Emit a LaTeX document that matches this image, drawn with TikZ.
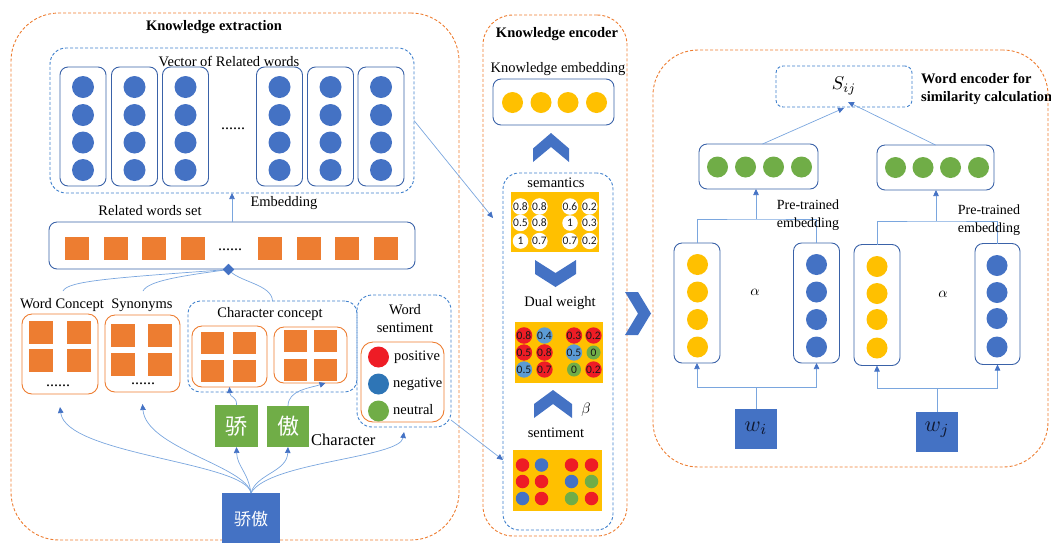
\documentclass[tikz,border=0pt]{standalone}
\usepackage{fontspec}
\setmainfont{Liberation Serif}
\newfontfamily\cjk{Noto Sans CJK SC}
\newfontfamily\numfont{Carlito}
\usetikzlibrary{arrows.meta,calc}

\definecolor{orgline}{HTML}{ED7D31}
\definecolor{dashblue}{HTML}{3F80CC}
\definecolor{boxblue}{HTML}{3A62A8}
\definecolor{dotblue}{HTML}{4472C4}
\definecolor{linkblue}{HTML}{7AA6DE}
\definecolor{gold}{HTML}{FFC000}
\definecolor{leafgreen}{HTML}{70AD47}
\definecolor{hotred}{HTML}{EE1C25}
\definecolor{seablue}{HTML}{2E75B6}
\definecolor{skyblue}{HTML}{5B9BD5}
\definecolor{inkblue}{HTML}{101830}

\tikzset{
  lbl/.style={font=\fontsize{14.5}{17}\selectfont, inner sep=0pt},
  ttl/.style={font=\fontsize{14.5}{18}\selectfont\bfseries, inner sep=0pt},
  ell/.style={font=\fontsize{16}{16}\selectfont, inner sep=0pt},
  mathlbl/.style={font=\fontsize{10}{10}\selectfont, inner sep=0pt, scale=#1},
  wh/.style 2 args={rectangle, minimum width=#1pt, minimum height=#2pt, inner sep=0pt, outer sep=0pt},
  orangedash/.style={draw=orgline, dash pattern=on 3pt off 2pt, line width=0.9pt},
  bluedash/.style={draw=dashblue, dash pattern=on 3pt off 2pt, line width=0.9pt},
  bluebox/.style={draw=boxblue, line width=0.9pt},
  orangebox/.style={draw=orgline, line width=0.9pt},
  tile/.style 2 args={wh={#1}{#2}, fill=orgline},
  bead/.style 2 args={circle, fill=#1, minimum size=#2pt, inner sep=0pt, outer sep=0pt},
  numbead/.style 2 args={circle, fill=#1, minimum size=#2pt, inner sep=0pt, outer sep=0pt,
    font=\numfont\fontsize{11.5}{11.5}\selectfont, text=black!90},
  link/.style={draw=linkblue, line width=0.7pt, -{Triangle[length=6pt,width=5.5pt,color=dotblue]}},
  wire/.style={draw=linkblue, line width=0.7pt},
  chev/.style={fill=dotblue},
  joint/.style={wh={8}{8}, fill=dotblue, rotate=45},
}

\begin{document}
\begin{tikzpicture}[x=1pt,y=-1pt]
\useasboundingbox (0,0) rectangle (1051,542);

% ================= Knowledge extraction =================
\node[wh={448}{527}, orangedash, rounded corners=48pt] (kx) at (235,276.5) {};
\node[ttl] (kxt) at (214,27) {Knowledge extraction};

% vectors of related words
\node[wh={364}{145}, bluedash, rounded corners=16pt] (vec) at (232,120.5) {};
\node[lbl] (vect) at (229,61) {Vector of Related words};
\foreach \x [count=\i] in {83,134.5,185.5,279.5,330.5,381}{
  \node[wh={46}{119}, bluebox, rounded corners=8pt] (col\i) at (\x,126.5) {};
  \foreach \y [count=\j] in {87,115,142.5,170}
    \node[bead={dotblue}{22}] (col\i-\j) at (\x,\y) {};
}
\node[ell] (vecdots) at (233,129) {......};

% related words set
\node[wh={366}{47}, bluebox, rounded corners=8pt] (rw) at (232,245.5) {};
\node[lbl] (rwt) at (150,211) {Related words set};
\foreach \x [count=\i] in {77,116,154,193,270,309,347,386}
  \node[tile={24}{23}] (rw\i) at (\x,248) {};
\node[ell] (rwdots) at (230,250) {......};
\node[lbl] (embt) at (284,203) {Embedding};
\draw[link] (rw.north) -- (vec.south);

% word concept and synonyms
\node[lbl] (wct) at (62,305) {Word Concept};
\node[lbl] (synt) at (142,305) {Synonyms};
\node[wh={76}{80}, orangebox, rounded corners=10pt] (wc) at (60,354) {};
\foreach \x/\y [count=\i] in {41/332,79/332,41/360,79/360}
  \node[tile={24}{23}] (wc\i) at (\x,\y) {};
\node[ell] (wcdots) at (58,386) {......};
\node[wh={75}{77}, orangebox, rounded corners=10pt] (syn) at (142.5,353.5) {};
\foreach \x/\y [count=\i] in {123/335,160/335,123/364,160/364}
  \node[tile={24}{23}] (syn\i) at (\x,\y) {};
\node[ell] (syndots) at (143,384) {......};

% character concept
\node[wh={169}{91}, bluedash, rounded corners=12pt] (cc) at (272.5,346.5) {};
\node[lbl] (cct) at (270,314) {Character concept};
\node[wh={75}{61}, orangebox, rounded corners=10pt] (cca) at (229.5,356.5) {};
\foreach \x/\y [count=\i] in {212.5/342.5,244/342.5,212.5/370.5,244/370.5}
  \node[tile={23}{22}] (cca\i) at (\x,\y) {};
\node[wh={73}{56}, orangebox, rounded corners=10pt] (ccb) at (310.5,355) {};
\foreach \x/\y [count=\i] in {295/340.5,325.5/340.5,295/369.5,325.5/369.5}
  \node[tile={23}{22}] (ccb\i) at (\x,\y) {};

% sources merging into the related words set
\coordinate (wcup) at (63,291);
\coordinate (synup) at (143,291);
\node[joint] (hub) at (228.5,269.5) {};
\draw[wire] (wcup) .. controls (68,281) and (110,278) .. (hub.center);
\draw[wire] (synup) .. controls (148,281) and (180,276) .. (hub.center);
\draw[wire] (cc.north) .. controls (272,284) and (238,282) .. (hub.center);
\node[joint] at (hub) {};

% word sentiment
\node[wh={94}{132}, bluedash, rounded corners=15pt] (ws) at (404,361) {};
\node[lbl, align=center, font=\fontsize{14.5}{18}\selectfont] (wst) at (405,319) {Word\\sentiment};
\node[wh={83}{80}, orangebox, rounded corners=12pt] (wsk) at (402.5,382) {};
\node[bead={hotred}{21}] (pos) at (378.5,357) {};
\node[bead={seablue}{21}] (neg) at (378.5,384) {};
\node[bead={leafgreen}{21}] (neu) at (378.5,411) {};
\node[lbl, anchor=west] (post) at (394,357) {positive};
\node[lbl, anchor=west] (negt) at (393,384) {negative};
\node[lbl, anchor=west] (neut) at (393,410) {neutral};

% characters and the word
\node[wh={43}{42}, fill=leafgreen, text=white, font=\cjk\fontsize{22}{22}\selectfont] (jiao) at (236.5,426) {骄};
\node[wh={42}{41}, fill=leafgreen, text=white, font=\cjk\fontsize{22}{22}\selectfont] (ao) at (288,426.5) {傲};
\node[lbl, anchor=west, font=\fontsize{16.5}{18}\selectfont] (chart) at (311,440) {Character};
\node[wh={58}{52}, fill=dotblue, text=white, font=\cjk\fontsize{17}{17}\selectfont] (root) at (251,519) {骄傲};

\draw[link] (root.north) .. controls (246,462) and (66,455) .. ([yshift=-13pt]wc.south);
\draw[link] (root.north) .. controls (246,466) and (146,448) .. ([yshift=-12pt]syn.south);
\draw[link] (root.north) .. controls (248,472) and (237,466) .. (jiao.south);
\draw[link] (root.north) .. controls (256,474) and (287,472) .. (ao.south);
\draw[link] (root.north) .. controls (268,462) and (400,458) .. ([yshift=-5pt]ws.south);
\draw[link] (jiao.north) .. controls (237,396) and (230,398) .. (cca.south);
\draw[link] (ao.north) .. controls (288,390) and (310,388) .. ([xshift=15pt]ccb.south);

% ================= Knowledge encoder =================
\node[wh={144}{521}, orangedash, rounded corners=30pt] (ken) at (555,275.5) {};
\node[ttl] (kent) at (557,34) {Knowledge encoder};
\node[lbl] (kembt) at (558,69) {Knowledge embedding};
\node[wh={121}{46}, bluebox, rounded corners=8pt] (kemb) at (553.5,102) {};
\foreach \x [count=\i] in {512.5,541,568,596.5}
  \node[bead={gold}{21}] (ke\i) at (\x,102.5) {};
\fill[chev] (533,148.5) -- (551,133) -- (569,148.5) -- (569,162) -- (551,147) -- (533,162) -- cycle;

\node[wh={110}{357}, bluedash, rounded corners=16pt] (fuse) at (558,351.5) {};
\node[lbl] (semt) at (556,183) {semantics};
\node[wh={88}{60}, fill=gold] (sem) at (555,222) {};
\foreach \x/\y/\v [count=\k] in {520.5/206.5/0.8, 539.5/206.5/0.8, 570/206.5/0.6, 589.5/206.5/0.2,
  520.5/223/0.5, 539.5/223/0.8, 570/223/1, 589.5/223/0.3,
  520.5/241/1, 539.5/241/0.7, 570/241/0.7, 589.5/241/0.2}
  \node[numbead={white}{15.5}] (sm\k) at (\x,\y) {\v};
\fill[chev] (535,260) -- (555.5,273) -- (576,260) -- (576,274) -- (555.5,287) -- (535,274) -- cycle;

\node[lbl] (dwt) at (560,303) {Dual weight};
\node[wh={88}{61}, fill=gold] (dw) at (559,352.5) {};
\foreach \x/\y/\v/\c [count=\k] in {524/335.5/0.8/hotred, 544.5/335.5/0.4/skyblue, 574/335.5/0.3/hotred, 593.5/335.5/0.2/hotred,
  524/352.5/0.5/hotred, 544.5/352.5/0.8/hotred, 574/352.5/0.5/skyblue, 593.5/352.5/0/leafgreen,
  524/369.5/0.5/skyblue, 544.5/369.5/0.7/hotred, 574/369.5/0/leafgreen, 593.5/369.5/0.2/hotred}
  \node[numbead={\c}{14}] (dm\k) at (\x,\y) {\v};
\fill[chev] (534,404) -- (553,390) -- (572,404) -- (572,418) -- (553,404) -- (534,418) -- cycle;
\node[mathlbl=1.5] (beta) at (586,410) {$\beta$};

\node[lbl] (sentt) at (556,433) {sentiment};
\node[wh={89}{61}, fill=gold] (snt) at (557.5,480.5) {};
\foreach \x/\y/\c [count=\k] in {522.5/465/hotred, 541.5/465/dotblue, 571.5/465/hotred, 591.5/465/hotred,
  522.5/481.5/hotred, 541.5/481.5/hotred, 571.5/481.5/dotblue, 591.5/481.5/leafgreen,
  522.5/498.5/dotblue, 541.5/498.5/hotred, 571.5/498.5/leafgreen, 591.5/498.5/hotred}
  \node[bead={\c}{13.5}] (st\k) at (\x,\y) {};

% knowledge fed into the encoder
\coordinate (semin) at (493,218);
\coordinate (sntin) at (503,460);
\draw[link] (vec.east) -- (semin);
\draw[link] ([yshift=7pt]ws.south east) -- (sntin);

% hand-over to the word encoder
\fill[chev] (625,292) -- (638,292) -- (651,313.5) -- (638,335) -- (625,335) -- (638,313.5) -- cycle;

% ================= Word encoder =================
\node[wh={395}{417}, orangedash, rounded corners=45pt] (wen) at (850.5,258.5) {};
\node[wh={136}{41}, bluedash, rounded corners=7pt] (sij) at (844,86.5) {};
\node[mathlbl=1.85] (sijt) at (844,86) {$S_{ij}$};
\node[ttl, anchor=west, align=left] (went) at (921,89) {Word encoder for\\similarity calculation};

\node[wh={119}{45}, bluebox, rounded corners=8pt] (gl) at (758.5,166.5) {};
\foreach \x [count=\i] in {717.5,745.5,773.5,801.5}
  \node[bead={leafgreen}{21}] (gl\i) at (\x,167) {};
\node[wh={117}{45}, bluebox, rounded corners=8pt] (gr) at (935.5,167.5) {};
\foreach \x [count=\i] in {895.5,923,950.5,978.5}
  \node[bead={leafgreen}{21}] (gr\i) at (\x,167.5) {};
\draw[link] ([xshift=4pt]gl.north) -- ([yshift=-1pt]sij.south);
\draw[link] (gr.north) -- ([xshift=4pt,yshift=5pt]sij.south);

\node[wh={46}{120}, bluebox, rounded corners=8pt] (yl) at (697,303) {};
\foreach \y [count=\i] in {264.5,292,319.5,347}
  \node[bead={gold}{21}] (yl\i) at (697.5,\y) {};
\node[wh={46}{120}, bluebox, rounded corners=8pt] (bl) at (816.5,303) {};
\foreach \y [count=\i] in {264.5,292,319.5,347}
  \node[bead={dotblue}{21}] (bl\i) at (816.5,\y) {};
\node[wh={46}{121}, bluebox, rounded corners=8pt] (yr) at (877,305) {};
\foreach \y [count=\i] in {266.5,293.5,319.5,348}
  \node[bead={gold}{21}] (yr\i) at (877,\y) {};
\node[wh={45}{121}, bluebox, rounded corners=8pt] (br) at (997.5,304) {};
\foreach \y [count=\i] in {265.5,292.5,318.5,347}
  \node[bead={dotblue}{21}] (br\i) at (997,\y) {};
\node[mathlbl=1.45] (al) at (755,292) {$\alpha$};
\node[mathlbl=1.45] (ar) at (943,294) {$\alpha$};

\coordinate (jl) at (756,219);
\draw[wire] (yl.north) |- (jl) -| (bl.north);
\draw[link] (jl) -- (jl |- gl.south);
\coordinate (jr) at (936,221);
\draw[wire] (yr.north) |- (jr) -| (br.north);
\draw[link] (jr) -- (jr |- gr.south);

\node[lbl, align=center, font=\fontsize{14}{18}\selectfont] (ptl) at (808,215) {Pre-trained\\embedding};
\node[lbl, align=center, font=\fontsize{14}{18}\selectfont] (ptr) at (989,220.5) {Pre-trained\\embedding};

\node[wh={42}{40}, fill=dotblue] (wi) at (756,429) {};
\node[mathlbl=2.2, text=inkblue] (wit) at (756,428) {$w_i$};
\node[wh={42}{40}, fill=dotblue] (wj) at (937,432) {};
\node[mathlbl=2.2, text=inkblue] (wjt) at (937,430) {$w_j$};
\coordinate (bi) at (756,387);
\draw[wire] (wi.north) -- (bi);
\draw[link] (bi) -| (yl.south);
\draw[link] (bi) -| (bl.south);
\coordinate (bj) at (937,388);
\draw[wire] (wj.north) -- (bj);
\draw[link] (bj) -| (yr.south);
\draw[link] (bj) -| (br.south);
\end{tikzpicture}
\end{document}
